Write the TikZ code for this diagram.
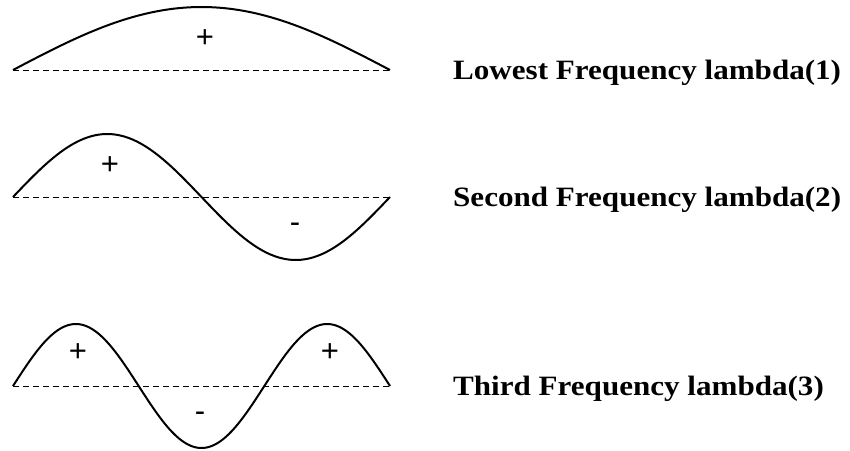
\documentclass[tikz,border=0pt]{standalone}
\usepackage{fontspec}
\setmainfont{Liberation Serif}
\newfontfamily\signfont{Liberation Sans}
\newfontfamily\labelfont{Liberation Serif}[FakeStretch=1.11]
\begin{document}
\begin{tikzpicture}[x=1pt,y=-1pt,
  wave/.style={line width=2pt, line join=round},
  base/.style={dashed, dash pattern=on 6pt off 4pt, line width=1pt},
  sign/.style={font=\signfont\fontsize{31}{31}\selectfont, inner sep=0pt},
  label/.style={font=\labelfont\bfseries\fontsize{28}{28}\selectfont, anchor=base west, inner sep=0pt}]
\useasboundingbox (0,0) rectangle (850,450);
% wave 1
\coordinate (a1) at (13,70);
\coordinate (b1) at (390,70);
\draw[base] (a1) -- (b1);
\draw[wave] plot[domain=0:180, samples=80] ({13+\x*2.09444}, {70-63*sin(\x)});
\node[sign] (p1) at (205,39) {+};
\node[label] (t1) at (453,79) {Lowest Frequency lambda(1)};
% wave 2
\coordinate (a2) at (13,197);
\coordinate (b2) at (390,197);
\draw[base] (a2) -- (b2);
\draw[wave] plot[domain=0:360, samples=120] ({13+\x*1.04722}, {197-63*sin(\x)});
\node[sign] (p2) at (110,166) {+};
\node[sign] (m2) at (295,228) {-};
\node[label] (t2) at (453,206) {Second Frequency lambda(2)};
% wave 3
\coordinate (a3) at (13,386);
\coordinate (b3) at (390,386);
\draw[base] (a3) -- (b3);
\draw[wave] plot[domain=0:540, samples=160] ({13+\x*0.69815}, {386-62*sin(\x)});
\node[sign] (p3a) at (78,353) {+};
\node[sign] (m3) at (200,417) {-};
\node[sign] (p3b) at (330,353) {+};
\node[label] (t3) at (453,395) {Third Frequency lambda(3)};
\end{tikzpicture}
\end{document}
